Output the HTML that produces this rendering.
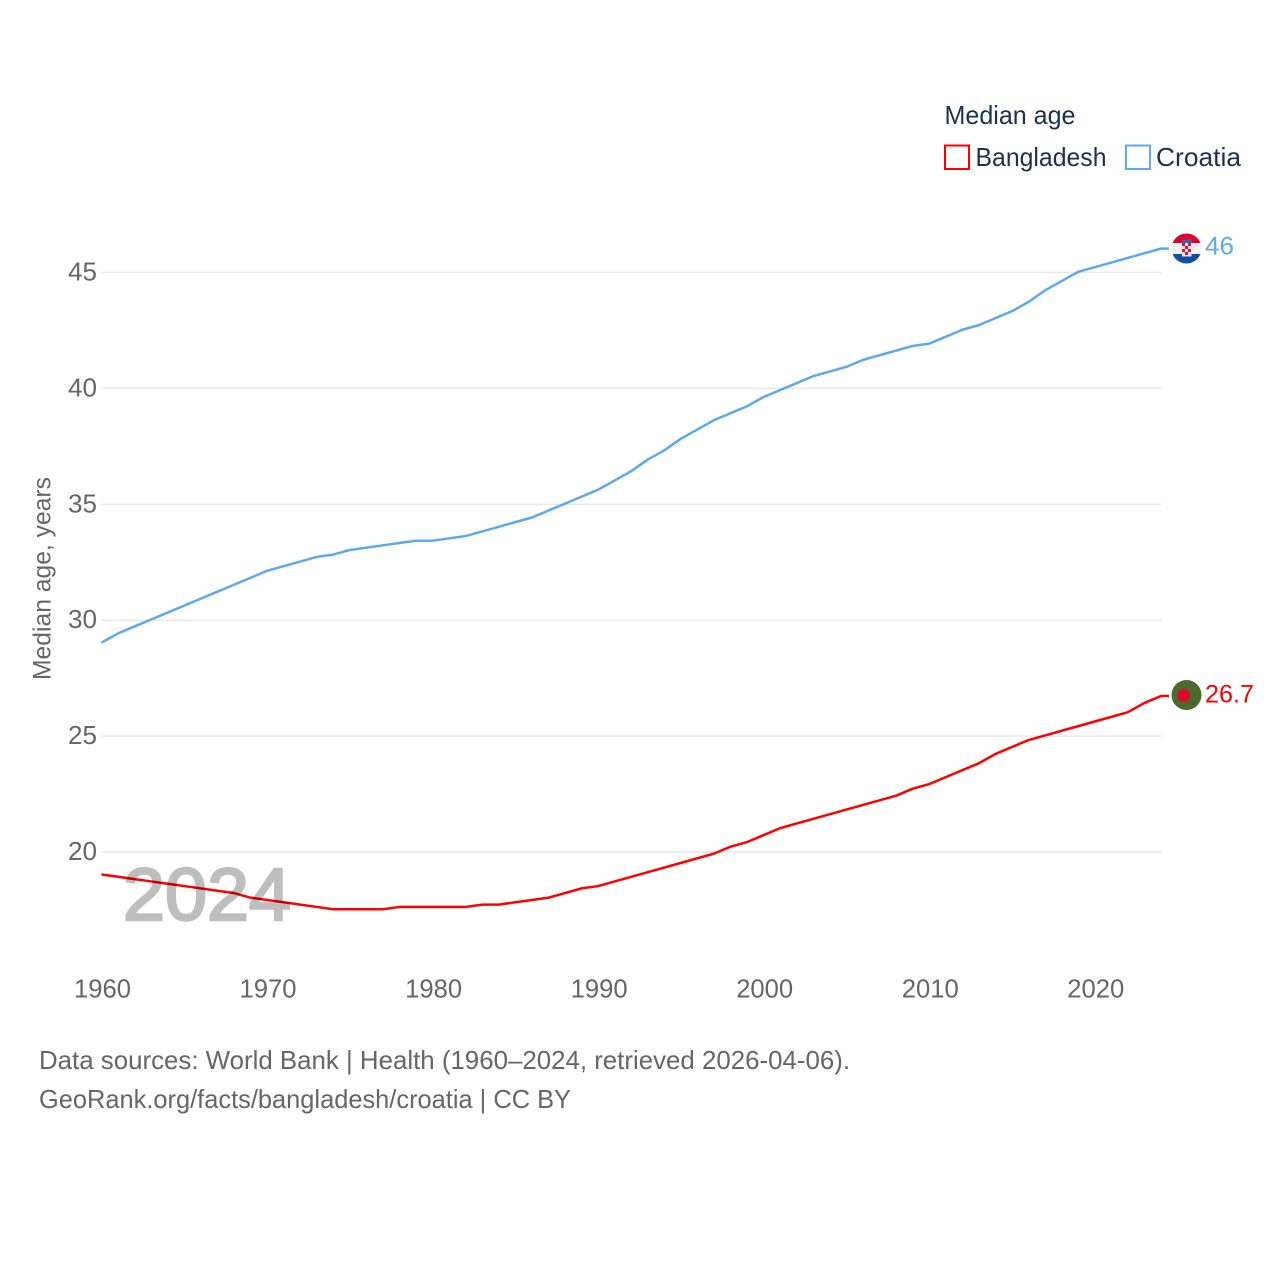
<!DOCTYPE html>
<html lang="en">
<head>
<meta charset="utf-8">
<title>Median age: Bangladesh and Croatia</title>
<style>
html,body{margin:0;padding:0;background:#fff;}
svg{display:block;}
text{font-family:"Liberation Sans",sans-serif;}
</style>
</head>
<body>
<svg id="chart" xmlns="http://www.w3.org/2000/svg" width="1280" height="1280" viewBox="0 0 1280 1280">
  <rect x="0" y="0" width="1280" height="1280" fill="#fff"/>
  <g id="grid"></g>
  <g id="yticks"></g>
  <g id="xticks"></g>
  <text transform="translate(50.5,680) rotate(-90)" font-size="25" fill="#666" textLength="203" lengthAdjust="spacingAndGlyphs">Median age, years</text>
  <g id="series" transform="translate(0,-0.7)"></g>
  <text x="123" y="920" font-size="74" fill="#000" stroke="#000" stroke-width="2.500" opacity="0.25" textLength="168" lengthAdjust="spacingAndGlyphs">2024</text>

  <g>
    <text x="944.500" y="124" font-size="26" fill="#1a3150" textLength="131" lengthAdjust="spacingAndGlyphs">Median age</text>
    <g>
      <rect x="945" y="145.500" width="24" height="23.500" fill="#fff" stroke="#ff0000" stroke-width="2"/>
      <text x="975.500" y="166" font-size="26" fill="#1a3150" textLength="131" lengthAdjust="spacingAndGlyphs">Bangladesh</text>
    </g>
    <g>
      <rect x="1126" y="145.500" width="24" height="23.500" fill="#fff" stroke="#5ea8ee" stroke-width="2"/>
      <text x="1156" y="166" font-size="26" fill="#1a3150" textLength="85" lengthAdjust="spacingAndGlyphs">Croatia</text>
    </g>
  </g>

  <defs>
    <clipPath id="flag-clip-hr"><circle cx="1186.500" cy="248.500" r="15"/></clipPath>
  </defs>
  <g clip-path="url(#flag-clip-hr)">
    <rect x="1170" y="232" width="34" height="11" fill="#e2002c"/>
    <rect x="1170" y="243" width="34" height="11" fill="#f1f1f1"/>
    <rect x="1170" y="254" width="34" height="11" fill="#0d4ea6"/>
    <rect x="1182" y="243" width="9.500" height="13.500" fill="#f6dfe3"/>
    <path d="M1182 243h3v3h-3zM1188 243h3v3h-3zM1185 246h3v3h-3zM1182 249h3v3h-3zM1188 249h3v3h-3zM1185 252h3v3h-3z" fill="#d8173c"/>
    <rect x="1182" y="239.500" width="9.500" height="3.500" fill="#3a66ae"/>
  </g>
  <g>
    <circle cx="1186.500" cy="695" r="15" fill="#4b6a2e"/>
    <circle cx="1183.500" cy="695.500" r="6.500" fill="#dc0a2e"/>
  </g>
  <text id="label-hr" x="1205" y="254.500" font-size="25" fill="#5ea8ee" textLength="29" lengthAdjust="spacingAndGlyphs">46</text>
  <text id="label-bd" x="1205" y="702.500" font-size="25" fill="#ff0000" textLength="49" lengthAdjust="spacingAndGlyphs">26.7</text>

  <g>
    <text x="39" y="1069" font-size="26" fill="#666" textLength="811" lengthAdjust="spacingAndGlyphs">Data sources: World Bank | Health (1960–2024, retrieved 2026-04-06).</text>
    <text x="39" y="1108" font-size="26" fill="#666" textLength="532" lengthAdjust="spacingAndGlyphs">GeoRank.org/facts/bangladesh/croatia | CC BY</text>
  </g>
</svg>
<script>
const years = [1960,1961,1962,1963,1964,1965,1966,1967,1968,1969,1970,1971,1972,1973,1974,1975,1976,1977,1978,1979,1980,1981,1982,1983,1984,1985,1986,1987,1988,1989,1990,1991,1992,1993,1994,1995,1996,1997,1998,1999,2000,2001,2002,2003,2004,2005,2006,2007,2008,2009,2010,2011,2012,2013,2014,2015,2016,2017,2018,2019,2020,2021,2022,2023,2024];
const croatia = [29.0,29.4,29.7,30.0,30.3,30.6,30.9,31.2,31.5,31.8,32.1,32.3,32.5,32.7,32.8,33.0,33.1,33.2,33.3,33.4,33.4,33.5,33.6,33.8,34.0,34.2,34.4,34.7,35.0,35.3,35.6,36.0,36.4,36.9,37.3,37.8,38.2,38.6,38.9,39.2,39.6,39.9,40.2,40.5,40.7,40.9,41.2,41.4,41.6,41.8,41.9,42.2,42.5,42.7,43.0,43.3,43.7,44.2,44.6,45.0,45.2,45.4,45.6,45.8,46.0];
const bangladesh = [19.0,18.9,18.8,18.7,18.6,18.5,18.4,18.3,18.2,18.0,17.9,17.8,17.7,17.6,17.5,17.5,17.5,17.5,17.6,17.6,17.6,17.6,17.6,17.7,17.7,17.8,17.9,18.0,18.2,18.4,18.5,18.7,18.9,19.1,19.3,19.5,19.7,19.9,20.2,20.4,20.7,21.0,21.2,21.4,21.6,21.8,22.0,22.2,22.4,22.7,22.9,23.2,23.5,23.8,24.2,24.5,24.8,25.0,25.2,25.4,25.6,25.8,26.0,26.4,26.7];
const yTickValues = [20,25,30,35,40,45];
const xTickValues = [1960,1970,1980,1990,2000,2010,2020];

const SVG_NS = 'http://www.w3.org/2000/svg';
function xScale(year) { return 101.5 + (year - 1960) * (1161 - 101.5) / 64; }
function yScale(v) { return 852 - (v - 20) * (852 - 272.5) / 25; }

const grid = document.getElementById('grid');
const yticks = document.getElementById('yticks');
const xticks = document.getElementById('xticks');
const series = document.getElementById('series');

yTickValues.forEach(function (v) {
  const line = document.createElementNS(SVG_NS, 'line');
  
  
  line.setAttribute('x1', 101.5);
  line.setAttribute('x2', 1161.5);
  line.setAttribute('y1', yScale(v));
  line.setAttribute('y2', yScale(v));
  line.setAttribute('stroke', '#e9e9e9');
  line.setAttribute('stroke-width', '1.5');
  grid.appendChild(line);

  const label = document.createElementNS(SVG_NS, 'text');
  
  
  label.setAttribute('x', 68);
  label.setAttribute('y', yScale(v) + 8);
  label.setAttribute('font-size', '25.500');
  label.setAttribute('fill', '#666');
  label.setAttribute('textLength', '29');
  label.setAttribute('lengthAdjust', 'spacingAndGlyphs');
  label.textContent = String(v);
  yticks.appendChild(label);
});

xTickValues.forEach(function (year) {
  const label = document.createElementNS(SVG_NS, 'text');
  
  
  label.setAttribute('x', xScale(year) - 27.5);
  label.setAttribute('y', 997.5);
  label.setAttribute('font-size', '25.500');
  label.setAttribute('fill', '#666');
  label.setAttribute('textLength', '57');
  label.setAttribute('lengthAdjust', 'spacingAndGlyphs');
  label.textContent = String(year);
  xticks.appendChild(label);
});

function linePath(values) {
  let d = '';
  values.forEach(function (v, i) {
    d += (i === 0 ? 'M' : 'L') + xScale(years[i]).toFixed(2) + ' ' + yScale(v).toFixed(2);
  });
  return d + 'H1169';
}

const croatiaLine = document.createElementNS(SVG_NS, 'path');


croatiaLine.setAttribute('d', linePath(croatia));
croatiaLine.setAttribute('fill', 'none');
croatiaLine.setAttribute('stroke', '#5ea8ee');
croatiaLine.setAttribute('stroke-width', '2.500');
croatiaLine.setAttribute('stroke-linejoin', 'round');
series.appendChild(croatiaLine);

const bangladeshLine = document.createElementNS(SVG_NS, 'path');


bangladeshLine.setAttribute('d', linePath(bangladesh));
bangladeshLine.setAttribute('fill', 'none');
bangladeshLine.setAttribute('stroke', '#ff0000');
bangladeshLine.setAttribute('stroke-width', '2.500');
bangladeshLine.setAttribute('stroke-linejoin', 'round');
series.appendChild(bangladeshLine);
</script>
</body>
</html>
